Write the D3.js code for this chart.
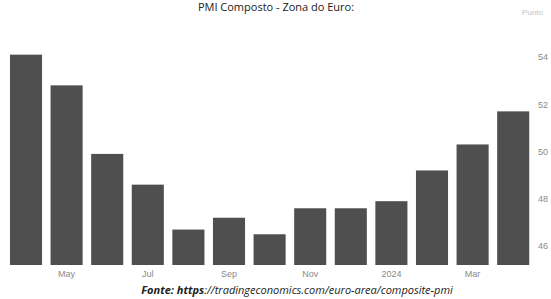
<!DOCTYPE html>
<html>
<head>
<meta charset="utf-8">
<script src="https://cdn.jsdelivr.net/npm/d3@7"></script>
<style>
  body { margin: 0; background: #fff; }
  svg { display: block; }
</style>
</head>
<body>
<div id="chart"></div>
<script>
// PMI composto - zona do euro, abr/2023 a abr/2024

var months = ["Apr", "May", "Jun", "Jul", "Aug", "Sep", "Oct", "Nov", "Dec", "2024", "Feb", "Mar", "Apr24"];
var pmiValues = [54.1, 52.8, 49.9, 48.6, 46.7, 47.2, 46.5, 47.6, 47.6, 47.9, 49.2, 50.3, 51.7];
var xTickLabels = ["May", "Jul", "Sep", "Nov", "2024", "Mar"];
var yTicks = [46, 48, 50, 52, 54];

var svgWidth = 551;
var svgHeight = 299;

var svg = d3.select("#chart")
  .append("svg")
  .attr("width", svgWidth)
  .attr("height", svgHeight);

// scales
var xScale = d3.scaleBand()
  .domain(months)
  .range([5.7, 533.5])
  .paddingInner(0.21)
  .paddingOuter(0.105);

var yScale = d3.scaleLinear()
  .domain([45.2, 54])
  .range([265, 57]);

// bars
svg.selectAll("rect.bar")
  .data(pmiValues)
  .enter()
  .append("rect")
  .attr("class", "bar")
  .attr("x", function(d, i) { return xScale(months[i]); })
  .attr("width", xScale.bandwidth())
  .attr("y", function(d) { return yScale(d); })
  .attr("height", function(d) { return yScale(45.2) - yScale(d); })
  .attr("fill", "#4f4f4f");

// x axis (labels only)
var bottomAxis = d3.axisBottom(xScale)
  .tickValues(xTickLabels)
  .tickSize(0)
  .tickPadding(6);

var xAxis = svg.append("g")
  .attr("transform", "translate(0, 265)")
  .call(bottomAxis);
xAxis.select(".domain").remove();
xAxis.selectAll("text")
  .attr("fill", "#8a8a8a")
  .style("font-family", "'Liberation Sans', Arial, sans-serif")
  .style("font-size", "9px");

// y axis on the right
var rightAxis = d3.axisRight(yScale)
  .tickValues(yTicks)
  .tickSize(0)
  .tickPadding(0);

var yAxis = svg.append("g")
  .attr("transform", "translate(538, 0)")
  .call(rightAxis);
yAxis.select(".domain").remove();
yAxis.selectAll("text")
  .attr("fill", "#8a8a8a")
  .style("font-family", "'Liberation Sans', Arial, sans-serif")
  .style("font-size", "9px");

// unit label
svg.append("text")
  .attr("x", 522)
  .attr("y", 15)
  .attr("fill", "#c4c4c4")
  .style("font-family", "'Liberation Sans', Arial, sans-serif")
  .style("font-size", "8px")
  .text("Punto");

// title
svg.append("text")
  .attr("x", 276)
  .attr("y", 11)
  .attr("text-anchor", "middle")
  .attr("fill", "#222")
  .style("font-family", "'Open Sans', sans-serif")
  .style("font-size", "11px")
  .text("PMI Composto - Zona do Euro:");

// source
var source = svg.append("text")
  .attr("x", 297)
  .attr("y", 294)
  .attr("text-anchor", "middle")
  .attr("fill", "#222")
  .style("font-family", "'Open Sans', sans-serif")
  .style("font-size", "11px")
  .style("font-style", "italic");
source.append("tspan").style("font-weight", "bold").text("Fonte: https");
source.append("tspan").text("://tradingeconomics.com/euro-area/composite-pmi");
</script>
</body>
</html>
